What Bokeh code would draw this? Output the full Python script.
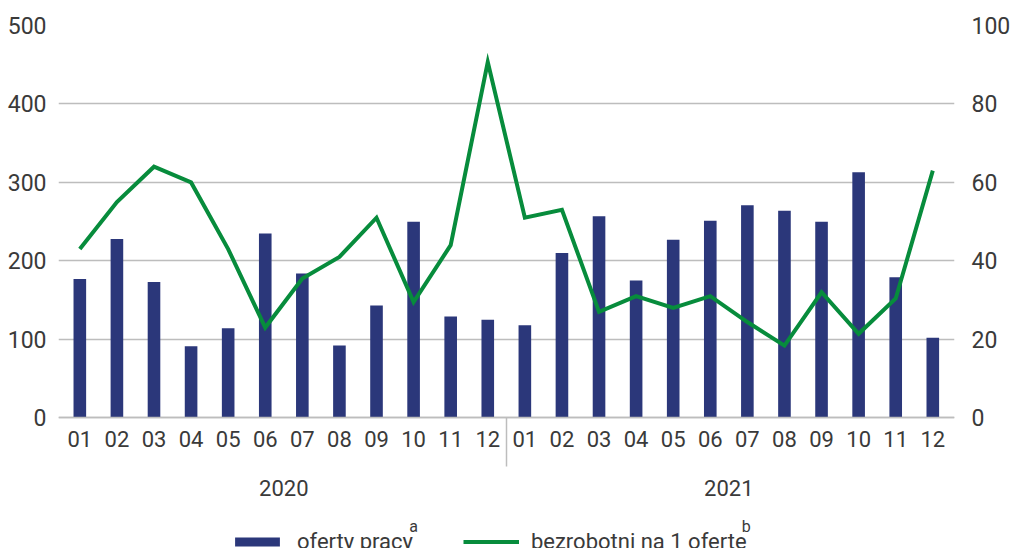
from bokeh.plotting import figure
from bokeh.models import Range1d, LinearAxis, FixedTicker, Legend, LegendItem, Label
from bokeh.embed import file_html
from bokeh.resources import INLINE

# ---- data ----
months = ["01", "02", "03", "04", "05", "06", "07", "08", "09", "10", "11", "12",
          "01", "02", "03", "04", "05", "06", "07", "08", "09", "10", "11", "12"]
years = ["2020", "2021"]
offers = [177, 228, 173, 91, 114, 235, 184, 92, 143, 250, 129, 125,
          118, 210, 257, 175, 227, 251, 271, 264, 250, 313, 179, 102]
unemployed_per_offer = [43, 55, 64, 60, 43, 23, 35.5, 41, 51, 29.5, 44, 90.7,
                        51, 53, 27, 31, 28, 31, 24.4, 18.4, 32, 21.4, 30.4, 63]
left_ticks = [0, 100, 200, 300, 400, 500]
right_ticks = [0, 20, 40, 60, 80, 100]
legend_labels = ["oferty pracy", "bezrobotni na 1 oferte"]
footnote_marks = ["a", "b"]

# ---- style ----
FONT = "Roboto"
TXT = "#3a3a3a"
GRID = "#bdbdbd"
NAVY = "#2b377a"
GREEN = "#078c3c"

x = list(range(len(months)))
n_per_year = len(months) // len(years)

# the frame reaches the bottom of the canvas so that the month/year labels,
# the legend and the footnote marks are drawn inside it (below y = 0)
LEFT_MAX = left_ticks[-1]
RIGHT_MAX = right_ticks[-1]
BELOW = 0.3333  # share of the value span kept below zero for the labels
p = figure(width=1013, height=548, output_backend="svg", toolbar_location=None,
           x_range=Range1d(-0.575, len(months) - 1 + 0.585),
           y_range=Range1d(-BELOW * LEFT_MAX, LEFT_MAX),
           min_border_left=58, min_border_right=58,
           min_border_top=25, min_border_bottom=0)
p.outline_line_color = None
p.background_fill_color = "white"
p.border_fill_color = "white"
p.extra_y_ranges = {"right": Range1d(-BELOW * RIGHT_MAX, RIGHT_MAX)}

bars = p.vbar(x=x, top=offers, bottom=0, width=0.34, fill_color=NAVY, line_color=None)
line = p.line(x=x, y=unemployed_per_offer, y_range_name="right",
              line_color=GREEN, line_width=4, line_join="miter")


def plain_axis(ax, size, standoff):
    ax.axis_line_color = None
    ax.major_tick_out = 0
    ax.major_tick_in = 0
    ax.minor_tick_line_color = None
    ax.major_label_standoff = standoff
    ax.major_label_text_font = FONT
    ax.major_label_text_font_size = size
    ax.major_label_text_color = TXT


# month axis at y = 0, with the year separator as a long minor tick
xa = p.xaxis[0]
xa.fixed_location = 0
xa.ticker = FixedTicker(ticks=x, minor_ticks=[n_per_year - 0.5])
xa.major_label_overrides = {i: m for i, m in enumerate(months)}
xa.major_tick_out = 0
xa.major_tick_in = 0
xa.minor_tick_out = 49
xa.minor_tick_in = 0
xa.minor_tick_line_color = GRID
xa.minor_tick_line_width = 1.5
xa.axis_line_color = GRID
xa.axis_line_width = 1.5
xa.major_label_standoff = -36
xa.major_label_text_font = FONT
xa.major_label_text_font_size = "22px"
xa.major_label_text_color = TXT

# year axis, also anchored at y = 0
year_pos = [sum(x[k * n_per_year:(k + 1) * n_per_year]) / n_per_year for k in range(len(years))]
yax = LinearAxis(ticker=FixedTicker(ticks=year_pos), fixed_location=0,
                 major_label_overrides={pos: yr for pos, yr in zip(year_pos, years)})
plain_axis(yax, "22px", 62)
p.add_layout(yax, "below")

# left axis
ya = p.yaxis[0]
ya.ticker = FixedTicker(ticks=left_ticks)
plain_axis(ya, "23px", 12)

# right axis
ra = LinearAxis(y_range_name="right", ticker=FixedTicker(ticks=right_ticks))
plain_axis(ra, "23px", 17)
p.add_layout(ra, "right")

p.xgrid.grid_line_color = None
p.ygrid.ticker = FixedTicker(ticks=left_ticks)
p.ygrid.grid_line_color = GRID
p.ygrid.grid_line_width = 1.5

# legend (inside the frame, at its bottom)
legend = Legend(items=[LegendItem(label=legend_labels[0], renderers=[bars]),
                       LegendItem(label=legend_labels[1], renderers=[line])],
                orientation="horizontal", location=(171, -6),
                glyph_width=56, glyph_height=11, label_height=11,
                label_standoff=12, spacing=50, padding=0, margin=0,
                border_line_color=None, background_fill_alpha=0,
                label_text_font=FONT, label_text_font_size="22px",
                label_text_color=TXT)
p.add_layout(legend, "center")

# footnote marks after the legend labels
sup_x = [9.0, 17.97]
for mark, sx in zip(footnote_marks, sup_x):
    p.add_layout(Label(x=sx, y=-138, text=mark, text_align="center",
                       text_baseline="middle", text_font=FONT,
                       text_font_size="16px", text_color=TXT))

open("out.html", "w").write(file_html(p, INLINE))
